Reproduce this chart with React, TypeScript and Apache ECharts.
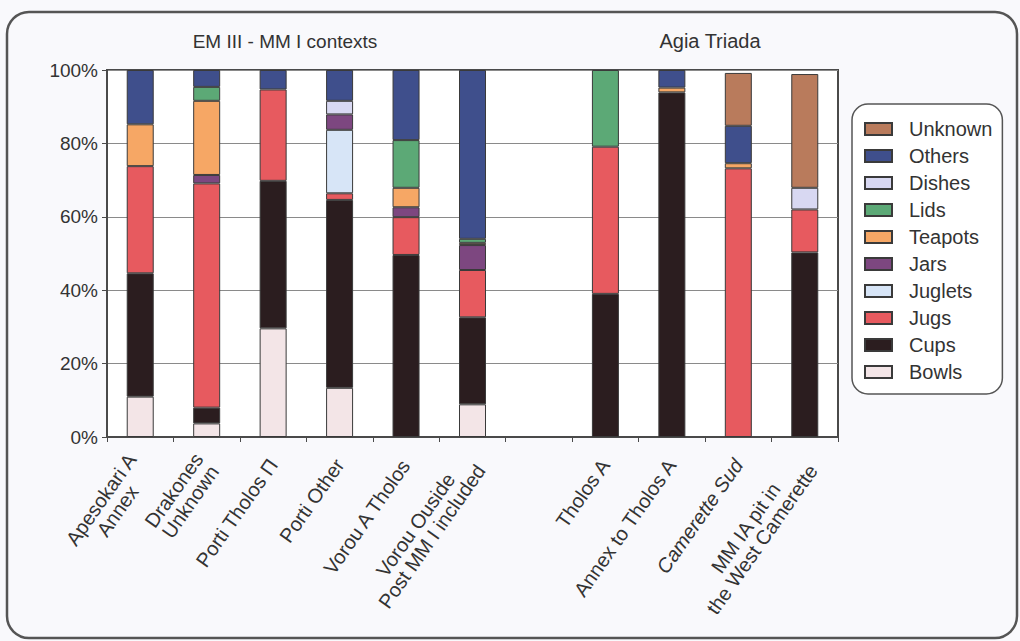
import React, { useEffect, useRef } from "react";
import * as echarts from "echarts";

const categories = [
  "Apesokari A\nAnnex",
  "Drakones\nUnknown",
  "Porti Tholos Π",
  "Porti Other",
  "Vorou A Tholos",
  "Vorou Ouside\nPost MM I included",
  "",
  "Tholos A",
  "Annex to Tholos A",
  "Camerette Sud",
  "MM IA pit in\nthe West Camerette",
];

const bowls = [11.0, 3.7, 29.6, 13.4, 0, 8.9, 0, 0, 0, 0, 0];
const cups = [33.6, 4.3, 40.2, 51.2, 49.6, 23.7, 0, 39.0, 93.9, 0, 50.3];
const jugs = [29.2, 61.1, 24.9, 1.8, 10.3, 12.9, 0, 40.1, 0, 73.2, 11.7];
const juglets = [0, 0, 0, 17.3, 0, 0, 0, 0, 0, 0, 0];
const jars = [0, 2.3, 0, 4.2, 2.7, 6.8, 0, 0, 0, 0, 0];
const teapots = [11.4, 20.2, 0, 0, 5.3, 0.6, 0, 0, 1.3, 1.4, 0];
const lids = [0, 3.8, 0, 0, 13.0, 1.1, 0, 20.9, 0, 0, 0];
const dishes = [0, 0, 0, 3.7, 0, 0, 0, 0, 0, 0, 5.9];
const others = [14.8, 4.6, 5.3, 8.4, 19.1, 46.0, 0, 0, 4.8, 10.2, 0];
const unknown = [0, 0, 0, 0, 0, 0, 0, 0, 0, 14.4, 31.0];

const yTicks = [0, 20, 40, 60, 80, 100];
const groupTitles = ["EM III - MM I contexts", "Agia Triada"];
const legendOrder = ["Unknown", "Others", "Dishes", "Lids", "Teapots", "Jars", "Juglets", "Jugs", "Cups", "Bowls"];

const seriesDefs: [string, number[], string][] = [
  ["Bowls", bowls, "#f3e5e7"],
  ["Cups", cups, "#2b1d1f"],
  ["Jugs", jugs, "#e75a5f"],
  ["Juglets", juglets, "#d7e5f7"],
  ["Jars", jars, "#7d4780"],
  ["Teapots", teapots, "#f6a765"],
  ["Lids", lids, "#5ca976"],
  ["Dishes", dishes, "#d8d8f2"],
  ["Others", others, "#3f4f8c"],
  ["Unknown", unknown, "#b97b5c"],
];

const FONT = "'Liberation Sans', Arial, sans-serif";

export default function App() {
  const ref = useRef<HTMLDivElement>(null);
  useEffect(() => {
    if (!ref.current) return;
    const chart = echarts.init(ref.current, undefined, { renderer: "svg" });
    chart.setOption({
      animation: false,
      backgroundColor: "#f9f9fc",
      textStyle: { fontFamily: FONT },
      grid: {
        left: 107,
        right: 182,
        top: 70,
        bottom: 204,
        show: true,
        backgroundColor: "#ffffff",
        borderColor: "#4a4a4a",
        borderWidth: 2,
        containLabel: false,
      },
      legend: {
        orient: "vertical",
        left: 852,
        top: 104,
        data: legendOrder,
        icon: "rect",
        itemWidth: 27,
        itemHeight: 12,
        itemGap: 7,
        padding: [15, 10, 12, 12],
        borderColor: "#555",
        borderWidth: 1.5,
        borderRadius: 16,
        backgroundColor: "#ffffff",
        textStyle: { fontSize: 20, color: "#333", fontFamily: FONT, padding: [0, 0, 0, 12] },
      },
      xAxis: {
        type: "category",
        data: categories,
        axisLine: { lineStyle: { color: "#4a4a4a", width: 2 } },
        axisTick: { show: true, alignWithLabel: false, length: 5, lineStyle: { color: "#4a4a4a" } },
        axisLabel: {
          interval: 0,
          rotate: 55,
          margin: 24,
          color: "#333",
          fontSize: 20,
          fontFamily: FONT,
          formatter: (v: string) =>
            v
              .split("\n")
              .map((l) => (v === "Camerette Sud" ? `{i|${l}}` : `{c|${l}}`))
              .join("\n"),
          rich: {
            c: { align: "center", fontSize: 20, color: "#333", fontFamily: FONT },
            i: { align: "center", fontSize: 20, color: "#333", fontFamily: FONT, fontStyle: "italic" },
          },
        },
      },
      yAxis: {
        type: "value",
        min: yTicks[0],
        max: yTicks[yTicks.length - 1],
        interval: 20,
        axisLine: { show: true, lineStyle: { color: "#4a4a4a", width: 2 } },
        axisTick: { show: true, length: 5, lineStyle: { color: "#4a4a4a" } },
        axisLabel: { formatter: "{value}%", fontSize: 19, color: "#333", margin: 9, fontFamily: FONT },
        splitLine: { show: true, lineStyle: { color: "#8a8a8a", width: 1 } },
      },
      series: seriesDefs.map(([name, arr, color]) => ({
        name,
        type: "bar",
        stack: "total",
        barWidth: 27,
        data: arr.map((v) => (v === 0 ? null : v)),
        itemStyle: { color, borderColor: "#3a3a3a", borderWidth: 1 },
      })),
      graphic: [
        {
          type: "rect",
          shape: { x: 7, y: 12, width: 1010, height: 626, r: 22 },
          style: { fill: "none", stroke: "#555", lineWidth: 2.5 },
          silent: true,
          z: -1,
        },
        {
          type: "text",
          x: 285,
          y: 41,
          style: { text: groupTitles[0], fontSize: 19, fill: "#333", align: "center", verticalAlign: "middle", fontFamily: FONT },
        },
        {
          type: "text",
          x: 710,
          y: 41,
          style: { text: groupTitles[1], fontSize: 20, fill: "#333", align: "center", verticalAlign: "middle", fontFamily: FONT },
        },
      ],
    });
    return () => chart.dispose();
  }, []);
  return <div ref={ref} style={{ position: "fixed", left: 0, top: 0, width: 1020, height: 641 }} />;
}
